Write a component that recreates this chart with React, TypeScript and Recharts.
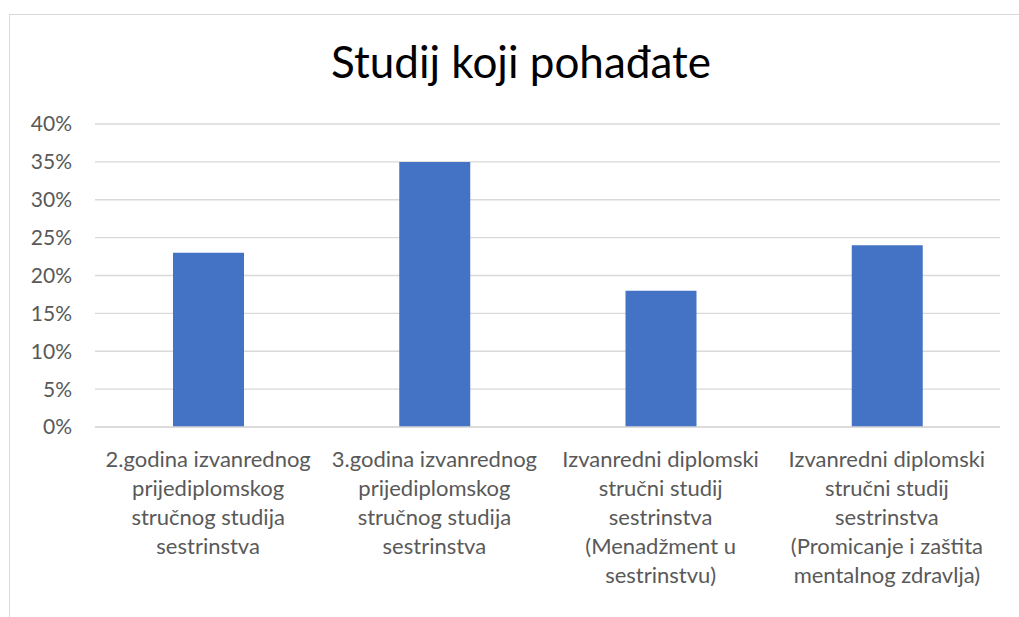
import React from "react";
import { BarChart, Bar, XAxis, YAxis, CartesianGrid } from "recharts";

const categories = [
  "2.godina izvanrednog prijediplomskog stručnog studija sestrinstva",
  "3.godina izvanrednog prijediplomskog stručnog studija sestrinstva",
  "Izvanredni diplomski stručni studij sestrinstva (Menadžment u sestrinstvu)",
  "Izvanredni diplomski stručni studij sestrinstva (Promicanje i zaštita mentalnog zdravlja)",
];

// how the labels wrap in the picture
const labelLines = [
  ["2.godina izvanrednog", "prijediplomskog", "stručnog studija", "sestrinstva"],
  ["3.godina izvanrednog", "prijediplomskog", "stručnog studija", "sestrinstva"],
  ["Izvanredni diplomski", "stručni studij", "sestrinstva", "(Menadžment u", "sestrinstvu)"],
  ["Izvanredni diplomski", "stručni studij", "sestrinstva", "(Promicanje i zaštita", "mentalnog zdravlja)"],
];

const shares = [0.23, 0.35, 0.18, 0.24];

const yTicks = [0, 0.05, 0.1, 0.15, 0.2, 0.25, 0.3, 0.35, 0.4];

const data = categories.map((name, i) => ({ name, value: shares[i] }));

const FONT = "Lato, 'Open Sans', sans-serif";

function CategoryTick(props: any) {
  const { x, y, index } = props;
  const lines = labelLines[index] || [];
  return (
    <text x={x} y={y} textAnchor="middle" fill="#595959" fontSize={22} fontFamily={FONT}>
      {lines.map((l, i) => (
        <tspan key={i} x={x} y={y + 38 + i * 29}>
          {l}
        </tspan>
      ))}
    </text>
  );
}

export default function App() {
  return (
    <div
      style={{
        position: "absolute",
        left: 0,
        top: 0,
        width: 1019,
        height: 617,
        overflow: "hidden",
        background: "#fff",
      }}
    >
      <div
        style={{
          position: "absolute",
          left: 9,
          top: 14,
          width: 1040,
          height: 640,
          border: "1px solid #d9d9d9",
        }}
      />
      <div
        style={{
          position: "absolute",
          left: 0,
          width: 1042,
          top: 37,
          textAlign: "center",
          fontFamily: FONT,
          fontSize: 44,
          color: "#000",
          lineHeight: "48px",
        }}
      >
        Studij koji pohađate
      </div>
      <div style={{ position: "absolute", left: 0, top: 0 }}>
        <BarChart
          width={1019}
          height={617}
          data={data}
          margin={{ top: 124, right: 19, bottom: 0, left: 0 }}
          barSize={71}
        >
          <CartesianGrid vertical={false} stroke="#d9d9d9" strokeWidth={1.3} />
          <XAxis
            dataKey="name"
            axisLine={{ stroke: "#d9d9d9", strokeWidth: 1.3 }}
            tickLine={false}
            tickSize={0}
            interval={0}
            tick={<CategoryTick />}
            height={190}
          />
          <YAxis
            width={95}
            domain={[0, 0.4]}
            ticks={yTicks}
            interval={0}
            axisLine={false}
            tickLine={false}
            tickSize={0}
            tickMargin={23}
            tickFormatter={(v: number) => `${Math.round(v * 100)}%`}
            tick={{ fill: "#595959", fontSize: 21, fontFamily: FONT }}
          />
          <Bar dataKey="value" fill="#4472c4" isAnimationActive={false} />
        </BarChart>
      </div>
    </div>
  );
}
